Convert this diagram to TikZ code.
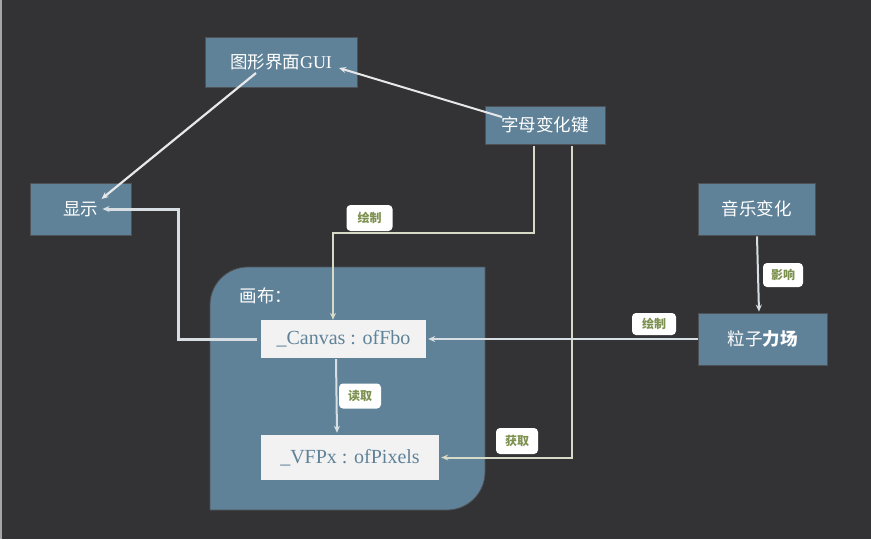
\documentclass[tikz,border=0pt]{standalone}
\usepackage{fontspec}
\setmainfont{Liberation Serif}
\newfontfamily\cjk{Noto Sans CJK SC}
\usetikzlibrary{arrows.meta,calc}
\definecolor{bgc}{HTML}{333335}
\definecolor{boxc}{HTML}{608298}
\definecolor{boxline}{HTML}{4E5256}
\definecolor{paleb}{HTML}{F2F2F2}
\definecolor{lblg}{HTML}{7D9150}
\definecolor{beige}{HTML}{D6DAC6}
\definecolor{lgray}{HTML}{D7DFE4}
\definecolor{wline}{HTML}{E6E8EA}
\tikzset{
  bluebox/.style={draw=boxline,line width=0.8pt,fill=boxc,text=white,inner sep=0pt,font=\fontsize{17.5}{20}\selectfont},
  palebox/.style={fill=paleb,text=boxc,inner sep=0pt,font=\fontsize{20}{22}\selectfont},
  tag/.style={fill=white,rounded corners=4pt,inner sep=0pt,text=lblg,font=\cjk\bfseries\fontsize{12}{14}\selectfont},
  tip/.style={-{Stealth[length=7pt,width=6pt]}},
  conn/.style={line width=2pt,line join=miter,tip},
}
\begin{document}
\begin{tikzpicture}[x=1pt,y=-1pt]
\fill[bgc] (0,0) rectangle (871,539);
\useasboundingbox (0,0) rectangle (871,539);
\fill[gray!70] (0,0) rectangle (1.5,539);
% container
\draw[fill=boxc,draw=boxline,line width=0.8pt] (210,510) -- (210,305) .. controls (210,284) and (227,267) .. (248,267) -- (485,267) -- (485,472) .. controls (485,493) and (468,510) .. (447,510) -- cycle;
\node[text=white,anchor=west,font=\cjk\fontsize{17.5}{20}\selectfont] (canvaslbl) at (236,296) {画布：};
% nodes
\node[bluebox,minimum width=152,minimum height=50] (gui) at (281,62) {{\cjk 图形界面}\fontsize{18}{20}\selectfont GUI};
\node[bluebox,minimum width=120,minimum height=38,font=\cjk\fontsize{17.5}{20}\selectfont] (key) at (545,125) {字母变化键};
\node[bluebox,minimum width=101,minimum height=52,font=\cjk\fontsize{17.5}{20}\selectfont] (show) at (80.5,209) {显示};
\node[bluebox,minimum width=117,minimum height=52,font=\cjk\fontsize{17.5}{20}\selectfont] (music) at (756.5,209) {音乐变化};
\node[bluebox,minimum width=129,minimum height=52,font=\cjk\fontsize{17.5}{20}\selectfont] (field) at (762.5,339) {粒子{\bfseries 力场}};
\node[palebox,minimum width=165,minimum height=38] (canvas) at (343.5,339) {\_Canvas : ofFbo};
\node[palebox,minimum width=178,minimum height=45] (vfpx) at (350,457.5) {\_VFPx : ofPixels};
% connectors
\draw[conn,wline,line width=2.2pt] ($(gui.center)+(-25,11)$) -- ($(show.center)+(21,-10)$);
\draw[conn,wline] ($(key.center)+(-43,-8)$) -- ($(gui.center)+(58,6)$);
\draw[conn,lgray,line width=3pt] ($(canvas.west)+(-4,0)$) -- ($(canvas.west)+(-82,0)$) |- ($(show.center)+(22,0)$);
\draw[conn,beige] ($(key.south)+(-11,2)$) |- (333,233) -- (canvas.north -| 333,0);
\draw[conn,beige] ($(key.south)+(27,2)$) |- ($(vfpx.east)+(2,0)$);
\draw[conn,lgray] ($(music.south)+(0.5,1)$) -- ($(field.north)+(-3.5,-1)$);
\draw[conn,lgray] (field.west) -- ($(canvas.east)+(2,0)$);
\draw[conn,lgray] ($(canvas.south)+(-7.5,1)$) -- ($(vfpx.north)+(-13,-2)$);
% tags
\node[tag,minimum width=46,minimum height=26] (t1) at (369.5,218) {绘制};
\node[tag,minimum width=44,minimum height=22] (t2) at (654,324) {绘制};
\node[tag,minimum width=40,minimum height=24] (t3) at (783,275) {影响};
\node[tag,minimum width=42,minimum height=25] (t4) at (360,396) {读取};
\node[tag,minimum width=42,minimum height=26] (t5) at (517,441) {获取};
\end{tikzpicture}
\end{document}
